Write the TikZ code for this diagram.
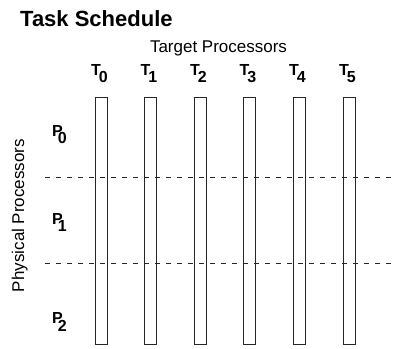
\documentclass[tikz,border=0pt]{standalone}
\usepackage{fontspec}
\setmainfont{Liberation Sans}
\begin{document}
\begin{tikzpicture}[x=1pt,y=1pt,
  bar/.style={draw=black!85,line width=0.9pt},
  sep/.style={draw=black!85,line width=0.8pt,dash pattern=on 5pt off 6pt},
  tlab/.style={inner sep=0pt,anchor=base,font=\fontsize{16}{16}\bfseries\selectfont},
  plab/.style={inner sep=0pt,anchor=base west,font=\fontsize{16}{16}\bfseries\selectfont},
  axis/.style={inner sep=0pt,font=\fontsize{17}{17}\selectfont}]
\useasboundingbox (0,0) rectangle (396,348);
\node[inner sep=0pt,anchor=base west,font=\fontsize{22}{22}\bfseries\selectfont] (title) at (20,321) {Task Schedule};
\node[axis,anchor=base] (tp) at (218.5,295) {Target Processors};
\node[axis,anchor=base,rotate=90] (pp) at (24,132.5) {Physical Processors};
\foreach \i/\x in {0/101,1/150.5,2/200,3/249.5,4/299,5/349}{
  \node[tlab] (t\i) at (\x-1.5,272) {T\kern-2pt\raisebox{-7pt}{\i}};
  \draw[bar] (\x-6,4) rectangle (\x+6,251);
}
\node[plab] (p0) at (52,211) {P\kern-5pt\raisebox{-7pt}{0}};
\node[plab] (p1) at (52,123) {P\kern-5pt\raisebox{-7pt}{1}};
\node[plab] (p2) at (52,24) {P\kern-5pt\raisebox{-7pt}{2}};
\coordinate (a1) at (45,171);
\coordinate (b1) at (393,171);
\coordinate (a2) at (45,85);
\coordinate (b2) at (393,85);
\draw[sep] (a1) -- (b1);
\draw[sep] (a2) -- (b2);
\end{tikzpicture}
\end{document}
